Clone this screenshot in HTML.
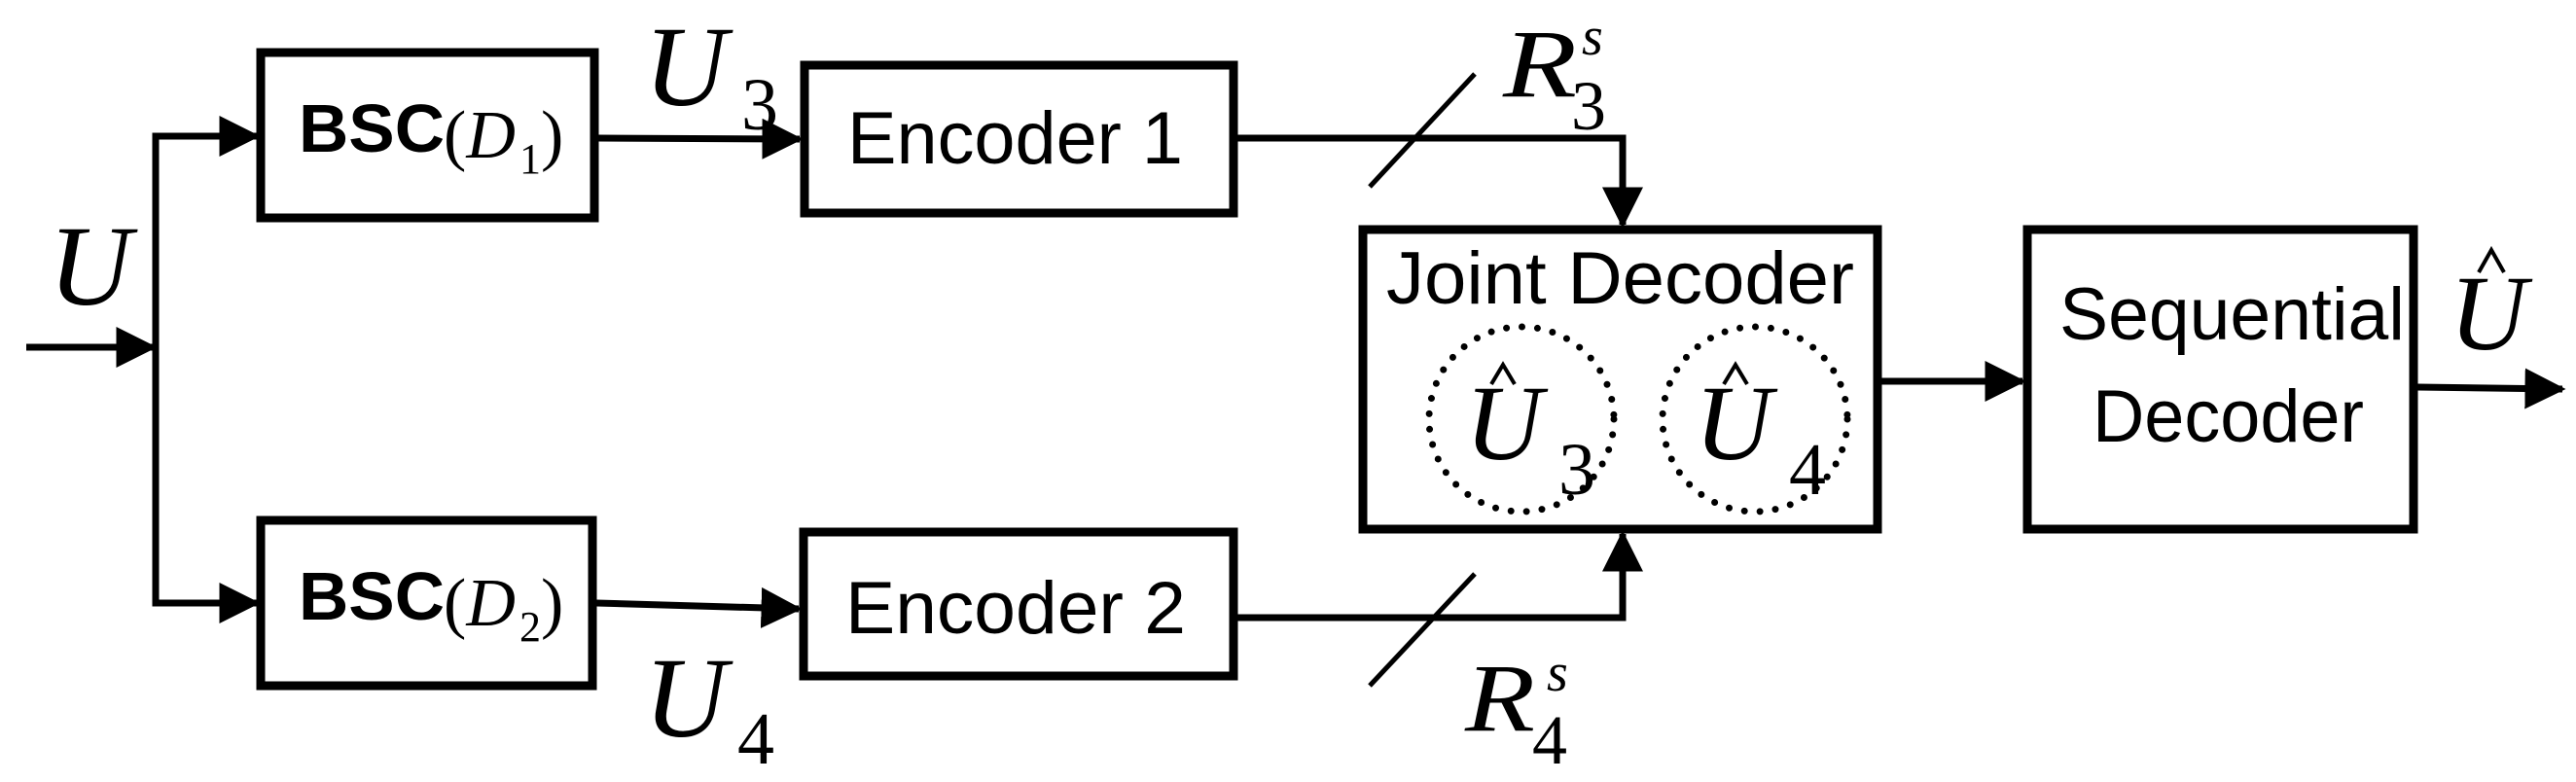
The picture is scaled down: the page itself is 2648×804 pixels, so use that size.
<!DOCTYPE html>
<html><head><meta charset="utf-8"><style>
html,body{margin:0;padding:0;background:#fff;}
svg{display:block;}
.s{font-family:"Liberation Sans",sans-serif;}
.m{font-family:"Liberation Serif",serif;font-style:italic;}
.n{font-family:"Liberation Serif",serif;}
</style></head><body>
<svg width="2648" height="804" viewBox="0 0 2648 804" xmlns="http://www.w3.org/2000/svg">
<defs>
<marker id="a" markerWidth="6" markerHeight="6" refX="5.5" refY="3" orient="auto" markerUnits="strokeWidth">
<path d="M0,0 L6,3 L0,6 Z" fill="#000"/>
</marker>
</defs>
<g stroke="#000" stroke-width="7" fill="none">
<rect x="268" y="54" width="343" height="170" stroke-width="9"/>
<rect x="268" y="535" width="341" height="170" stroke-width="9"/>
<rect x="827" y="67" width="441" height="152" stroke-width="9"/>
<rect x="826" y="547" width="442" height="148" stroke-width="9"/>
<rect x="1401" y="236" width="529" height="308" stroke-width="9"/>
<rect x="2084" y="236" width="397" height="308" stroke-width="9"/>
<line x1="27" y1="357" x2="158" y2="357" marker-end="url(#a)"/>
<polyline points="160,620 160,140 264,140" marker-end="url(#a)"/>
<polyline points="160,360 160,620 264,620" marker-end="url(#a)"/>
<line x1="615" y1="142" x2="822" y2="143" marker-end="url(#a)"/>
<line x1="613" y1="620" x2="821" y2="626" marker-end="url(#a)"/>
<polyline points="1272,142 1668,142 1668,231" marker-end="url(#a)"/>
<polyline points="1272,635 1668,635 1668,549" marker-end="url(#a)"/>
<line x1="1934" y1="392" x2="2079" y2="392" marker-end="url(#a)"/>
<line x1="2485" y1="398" x2="2634" y2="400" marker-end="url(#a)"/>
<line x1="1408" y1="192" x2="1516" y2="76" stroke-width="5"/>
<line x1="1408" y1="705" x2="1516" y2="590" stroke-width="5"/>
<circle cx="1564" cy="431" r="95" stroke-width="7" stroke-linecap="round" stroke-dasharray="0 16"/>
<circle cx="1804" cy="431" r="95" stroke-width="7" stroke-linecap="round" stroke-dasharray="0 16"/>
<polyline points="1533,395 1545,375 1557,395" stroke-width="4"/>
<polyline points="1772,395 1784,375 1796,395" stroke-width="4"/>
<polyline points="2548,280 2561,257 2574,280" stroke-width="4"/>
</g>
<g fill="#000">
<text class="s" x="307" y="156" font-size="70" font-weight="bold" textLength="150" lengthAdjust="spacingAndGlyphs">BSC</text>
<text class="n" x="456" y="162" font-size="70">(<tspan class="m">D</tspan></text>
<text class="n" x="534" y="178" font-size="44">1</text>
<text class="n" x="556" y="162" font-size="70">)</text>
<text class="s" x="307" y="637" font-size="70" font-weight="bold" textLength="150" lengthAdjust="spacingAndGlyphs">BSC</text>
<text class="n" x="456" y="643" font-size="70">(<tspan class="m">D</tspan></text>
<text class="n" x="534" y="659" font-size="44">2</text>
<text class="n" x="556" y="643" font-size="70">)</text>
<text class="s" x="871" y="168" font-size="76" textLength="345" lengthAdjust="spacingAndGlyphs">Encoder 1</text>
<text class="s" x="869" y="651" font-size="76" textLength="350" lengthAdjust="spacingAndGlyphs">Encoder 2</text>
<text class="s" x="1425" y="312" font-size="76" textLength="481" lengthAdjust="spacingAndGlyphs">Joint Decoder</text>
<text class="s" x="2117" y="349" font-size="76" textLength="355" lengthAdjust="spacingAndGlyphs">Sequential</text>
<text class="s" x="2151" y="454" font-size="76" textLength="279" lengthAdjust="spacingAndGlyphs">Decoder</text>
<text class="m" x="50" y="313" font-size="118">U</text>
<text class="m" x="662" y="108" font-size="118">U</text>
<text class="n" x="762" y="133" font-size="76">3</text>
<text class="m" x="662" y="757" font-size="118">U</text>
<text class="n" x="758" y="785" font-size="76">4</text>
<text class="m" x="1545" y="99" font-size="100" textLength="76" lengthAdjust="spacingAndGlyphs">R</text>
<text class="m" x="1626" y="56" font-size="56">s</text>
<text class="n" x="1615" y="133" font-size="72">3</text>
<text class="m" x="1506" y="751" font-size="100" textLength="72" lengthAdjust="spacingAndGlyphs">R</text>
<text class="m" x="1590" y="710" font-size="56">s</text>
<text class="n" x="1575" y="785" font-size="72">4</text>
<text class="m" x="1506" y="472" font-size="110">U</text>
<text class="n" x="1602" y="508" font-size="76">3</text>
<text class="m" x="1742" y="472" font-size="110">U</text>
<text class="n" x="1839" y="508" font-size="76">4</text>
<text class="m" x="2518" y="359" font-size="110">U</text>
</g>
</svg>
</body></html>
